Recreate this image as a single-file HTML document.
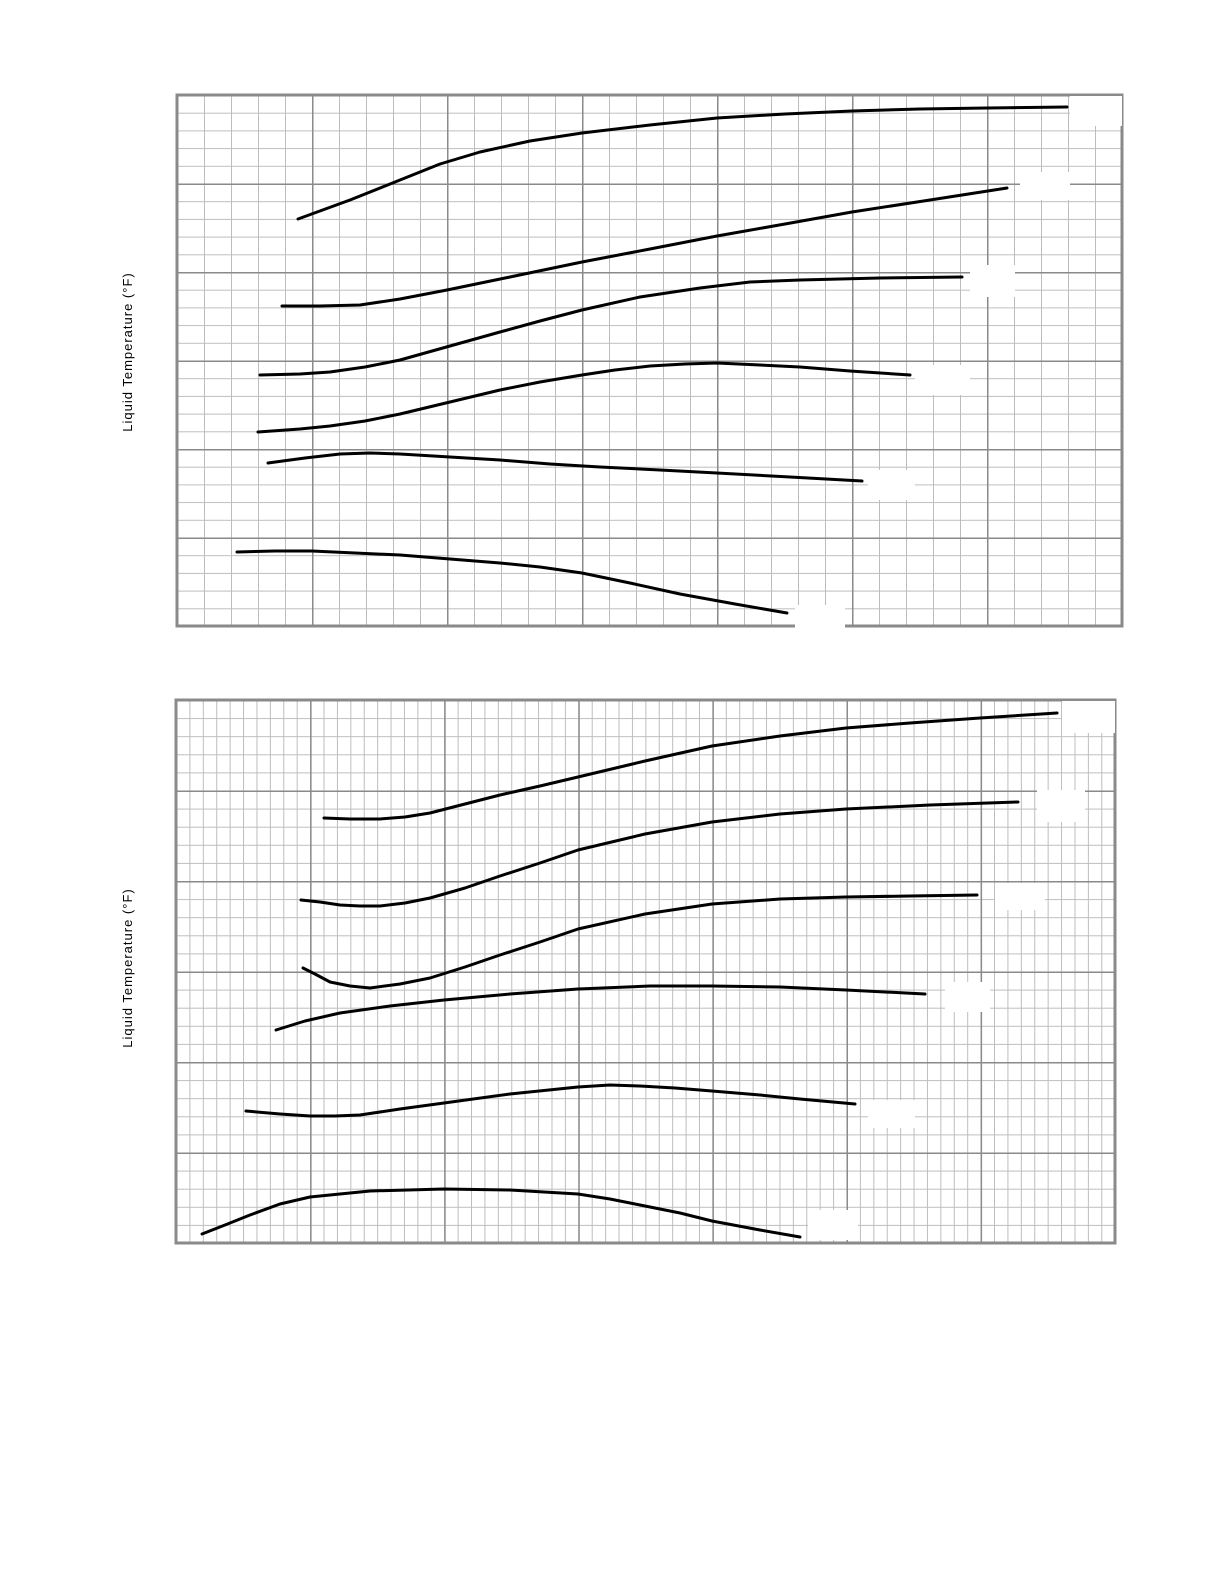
<!DOCTYPE html>
<html><head><meta charset="utf-8"><style>
html,body{margin:0;padding:0;background:#fff;width:1224px;height:1584px;overflow:hidden;}
svg{display:block;position:absolute;left:0;top:0;}
</style></head><body>
<svg width="1224" height="1584" viewBox="0 0 1224 1584" xmlns="http://www.w3.org/2000/svg">
<defs>
<pattern id="tmin" x="177" y="95" width="27" height="17.7" patternUnits="userSpaceOnUse">
<path d="M0 0V17.7M0 0H27" stroke="#bdbdbd" stroke-width="2" fill="none"/></pattern>
<pattern id="tmaj" x="177" y="95" width="135" height="88.5" patternUnits="userSpaceOnUse">
<path d="M0 0V88.5M0 0H135" stroke="#8a8a8a" stroke-width="3" fill="none"/></pattern>
<pattern id="bmin" x="176" y="700" width="13.41" height="18.1" patternUnits="userSpaceOnUse">
<path d="M0 0V18.1M0 0H13.41" stroke="#bdbdbd" stroke-width="2" fill="none"/></pattern>
<pattern id="bmaj" x="176" y="700" width="134.1" height="90.5" patternUnits="userSpaceOnUse">
<path d="M0 0V90.5M0 0H134.1" stroke="#8a8a8a" stroke-width="3" fill="none"/></pattern>
</defs>
<rect x="177" y="95" width="945" height="531" fill="url(#tmin)"/>
<rect x="177" y="95" width="945" height="531" fill="url(#tmaj)"/>
<rect x="177" y="95" width="945" height="531" fill="none" stroke="#8a8a8a" stroke-width="3"/>
<rect x="176" y="700" width="939" height="543" fill="url(#bmin)"/>
<rect x="176" y="700" width="939" height="543" fill="url(#bmaj)"/>
<rect x="176" y="700" width="939" height="543" fill="none" stroke="#8a8a8a" stroke-width="3"/>
<g fill="#fff">
<rect x="1070" y="96" width="52" height="30"/>
<rect x="1020" y="172" width="50" height="28"/>
<rect x="970" y="265" width="45" height="32"/>
<rect x="915" y="365" width="55" height="30"/>
<rect x="868" y="470" width="47" height="30"/>
<rect x="795" y="605" width="50" height="25"/>
<rect x="1062" y="701" width="53" height="32"/>
<rect x="1037" y="790" width="48" height="32"/>
<rect x="995" y="883" width="50" height="27"/>
<rect x="945" y="982" width="45" height="30"/>
<rect x="868" y="1100" width="47" height="28"/>
<rect x="808" y="1210" width="50" height="30"/>
</g>
<g fill="none" stroke="#000" stroke-width="3" stroke-linejoin="round" stroke-linecap="round">
<polyline points="298,219 350,200 400,180 440,164 480,152 530,141 582,133 650,125 717,118 785,114 852,111 920,109 987,108 1067,107"/>
<polyline points="282,306 320,306 360,305 400,299 447,290 510,277 582,262 650,249 717,236 785,224 852,212 930,200 1007,188"/>
<polyline points="260,375 300,374 330,372 365,367 400,360 450,346 500,332 540,321 582,310 640,297 700,288 750,282 800,280 880,278 962,277"/>
<polyline points="258,432 300,429 330,426 365,421 400,414 450,402 500,390 540,382 582,375 615,370 650,366 685,364 717,363 760,365 800,367 850,371 910,375"/>
<polyline points="268,463 305,458 340,454 370,453 400,454 450,457 500,460 550,464 600,467 660,470 717,473 790,477 862,481"/>
<polyline points="237,552 275,551 312,551 355,553 400,555 450,559 500,563 540,567 582,573 630,583 680,594 735,604 787,613"/>
<polyline points="324,818 350,819 380,819 405,817 430,813 465,804 500,795 540,786 578,777 645,761 712,746 780,736 846,728 910,723 980,718 1057,713"/>
<polyline points="301,900 320,902 340,905 360,906 380,906 405,903 430,898 465,888 500,876 540,863 578,850 645,834 712,822 780,814 846,809 930,805 1018,802"/>
<polyline points="303,968 315,974 330,982 350,986 370,988 400,984 430,978 465,967 500,955 540,942 578,929 645,914 712,904 780,899 846,897 910,896 977,895"/>
<polyline points="276,1030 305,1021 340,1013 390,1006 444,1000 510,994 578,989 650,986 712,986 780,987 846,990 925,994"/>
<polyline points="246,1111 280,1114 310,1116 335,1116 360,1115 400,1109 444,1103 510,1094 578,1087 610,1085 640,1086 675,1088 712,1091 760,1095 800,1099 855,1104"/>
<polyline points="202,1234 225,1225 250,1215 280,1204 310,1197 370,1191 444,1189 510,1190 578,1194 610,1199 640,1205 680,1213 712,1221 760,1230 800,1237"/>
</g>
<g font-family="Liberation Sans, sans-serif" font-size="13" fill="#000" letter-spacing="1">
<text transform="translate(132,352) rotate(-90)" text-anchor="middle">Liquid  Temperature  (°F)</text>
<text transform="translate(132,968) rotate(-90)" text-anchor="middle">Liquid  Temperature  (°F)</text>
</g>
</svg>
</body></html>
